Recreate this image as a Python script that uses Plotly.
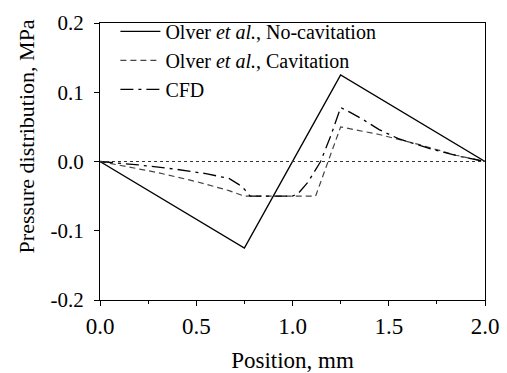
import plotly.graph_objects as go

# Olver et al., No-cavitation
x_nocav = [0.0, 0.75, 1.25, 2.0]
y_nocav = [0.0, -0.125, 0.125, 0.0]

# Olver et al., Cavitation
x_cav = [0.0, 0.3, 0.5, 0.67, 0.75, 1.12, 1.25, 1.45, 1.65, 1.85, 2.0]
y_cav = [0.0, -0.016, -0.029, -0.042, -0.05, -0.05, 0.05, 0.039, 0.025, 0.009, 0.0]

# CFD
x_cfd = [0.0, 0.2, 0.39, 0.55, 0.67, 0.72, 0.75, 0.78, 1.0, 1.03, 1.08, 1.146, 1.2, 1.25,
         1.3, 1.37, 1.45, 1.55, 1.72, 1.875, 2.0]
y_cfd = [0.0, -0.005, -0.011, -0.0175, -0.0245, -0.033, -0.04, -0.05, -0.05, -0.046, -0.03, 0.0, 0.038, 0.078,
         0.071, 0.060, 0.046, 0.033, 0.018, 0.007, 0.0]

x_ticks = [0.0, 0.5, 1.0, 1.5, 2.0]
y_ticks = [-0.2, -0.1, 0.0, 0.1, 0.2]

serif = "Liberation Serif, Times New Roman, serif"

fig = go.Figure()
fig.add_trace(go.Scatter(x=x_nocav, y=y_nocav, mode="lines",
                         name="Olver <i>et al.</i>, No-cavitation",
                         line=dict(color="black", width=1.4)))
fig.add_trace(go.Scatter(x=x_cav, y=y_cav, mode="lines",
                         name="Olver <i>et al.</i>, Cavitation",
                         line=dict(color="#444444", width=1.2, dash="6px,4px")))
fig.add_trace(go.Scatter(x=x_cfd, y=y_cfd, mode="lines",
                         name="CFD",
                         line=dict(color="black", width=1.3, dash="13px,5px,3px,5px")))

fig.add_shape(type="line", xref="paper", yref="y", x0=0, x1=1, y0=0, y1=0,
              line=dict(color="#333333", width=1, dash="dot"))

fig.add_annotation(text="Pressure distribution, MPa", textangle=-90,
                   xref="paper", yref="paper", x=-0.19, y=0.59,
                   xanchor="center", yanchor="middle", showarrow=False,
                   font=dict(family=serif, size=22, color="black"))

fig.update_layout(
    width=507, height=373,
    margin=dict(l=100, r=22, t=15, b=73),
    paper_bgcolor="white", plot_bgcolor="white",
    font=dict(family=serif, size=22, color="black"),
    showlegend=True,
    legend=dict(x=0.04, y=1.04, xanchor="left", yanchor="top",
                bgcolor="rgba(0,0,0,0)", font=dict(size=20, family=serif),
                tracegroupgap=0, itemwidth=40),
    xaxis=dict(range=[0, 2], tickvals=x_ticks, ticktext=[f"{v:.1f}" for v in x_ticks],
               showgrid=False, zeroline=False, showline=True, mirror=True,
               linecolor="black", linewidth=1.3, ticks="outside", ticklen=5,
               tickcolor="black", tickfont=dict(size=23), automargin=False,
               minor=dict(dtick=0.25, tick0=0, ticks="outside", ticklen=3, tickcolor="black"),
               title=dict(text="Position, mm", font=dict(size=23), standoff=23)),
    yaxis=dict(range=[-0.2, 0.2], tickvals=y_ticks, ticktext=[f"{v:.1f}" for v in y_ticks],
               showgrid=False, zeroline=False, showline=True, mirror=True,
               linecolor="black", linewidth=1.3, ticks="outside", ticklen=5, automargin=False,
               tickcolor="black", tickfont=dict(size=21), ticklabelstandoff=6),
)

fig.write_html("out.html")
